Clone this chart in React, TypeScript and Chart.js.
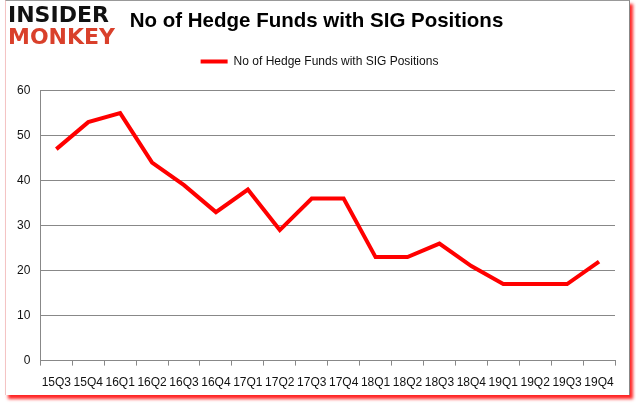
import React, { useEffect, useRef } from "react";
import { Chart, registerables } from "chart.js";

Chart.register(...registerables);

const categories = ["15Q3", "15Q4", "16Q1", "16Q2", "16Q3", "16Q4", "17Q1", "17Q2", "17Q3", "17Q4", "18Q1", "18Q2", "18Q3", "18Q4", "19Q1", "19Q2", "19Q3", "19Q4"];
const hedgeFunds = [47, 53, 55, 44, 39, 33, 38, 29, 36, 36, 23, 23, 26, 21, 17, 17, 17, 22];
const seriesLabel = "No of Hedge Funds with SIG Positions";
const chartTitle = "No of Hedge Funds with SIG Positions";
const yTicks = [0, 10, 20, 30, 40, 50, 60];

const legendSpacer = {
  id: "legendSpacer",
  beforeLayout(chart: any) {
    const legend = chart.legend;
    if (legend && !legend._spaced) {
      const fit = legend.fit;
      legend.fit = function () {
        fit.call(this);
        this.height += 13;
      };
      legend._spaced = true;
    }
  },
  afterLayout(chart: any) {
    if (chart.titleBlock) chart.titleBlock.left += 11;
    if (chart.legend) chart.legend.left += 17;
  },
};

export default function App() {
  const canvasRef = useRef<HTMLCanvasElement | null>(null);

  useEffect(() => {
    if (!canvasRef.current) return;
    const chart = new Chart(canvasRef.current, {
      type: "line",
      data: {
        labels: categories,
        datasets: [
          {
            label: seriesLabel,
            data: hedgeFunds,
            borderColor: "#ff0000",
            backgroundColor: "#ff0000",
            borderWidth: 4,
            pointRadius: 0,
            tension: 0,
            fill: false,
          },
        ],
      },
      plugins: [legendSpacer],
      options: {
        responsive: false,
        animation: false,
        layout: { padding: { left: 7, right: 21, top: 0, bottom: 5 } },
        plugins: {
          title: {
            display: true,
            text: chartTitle,
            color: "#000",
            font: { family: "Liberation Sans", size: 20.5, weight: "bold" },
            padding: { top: 9, bottom: 10 },
          },
          legend: {
            display: true,
            position: "top",
            labels: {
              color: "#111",
              font: { family: "Liberation Sans", size: 12 },
              boxWidth: 27,
              boxHeight: 4,
              padding: 12,
              generateLabels: (c: any) =>
                Chart.defaults.plugins.legend.labels.generateLabels(c).map((l: any) => ({ ...l, lineWidth: 0 })),
            },
          },
          tooltip: { enabled: false },
        },
        scales: {
          x: {
            offset: true,
            grid: {
              offset: true,
              drawOnChartArea: false,
              drawTicks: true,
              tickLength: 5,
              color: "#888",
            },
            border: { color: "#888" },
            ticks: {
              color: "#111",
              font: { family: "Liberation Sans", size: 12 },
              maxRotation: 0,
              autoSkip: false,
              padding: 10,
            },
          },
          y: {
            min: 0,
            max: 60,
            afterBuildTicks: (axis: any) => {
              axis.ticks = yTicks.map((v) => ({ value: v }));
            },
            grid: { color: "#888", drawTicks: false },
            border: { color: "#888" },
            ticks: {
              color: "#111",
              font: { family: "Liberation Sans", size: 12 },
              padding: 10,
            },
          },
        },
      },
    });
    return () => chart.destroy();
  }, []);

  return (
    <div style={{ position: "fixed", left: 0, top: 0, width: 636, height: 405, background: "#fff" }}>
      <div
        style={{
          position: "absolute",
          left: 5,
          top: 0,
          width: 623,
          height: 394,
          borderTop: "1px solid #999",
          borderRight: "1px solid #888",
          borderLeft: "1px solid #f4c4c4",
          boxShadow: "3px 4px 3px rgba(255,0,0,0.85)",
          background: "#fff",
        }}
      />
      <canvas ref={canvasRef} width={636} height={405} style={{ position: "absolute", left: 0, top: 0 }} />
      <div
        style={{
          position: "absolute",
          left: 8,
          top: 4,
          fontFamily: "DejaVu Sans",
          fontWeight: 900,
          lineHeight: "22px",
          letterSpacing: "0px",
        }}
      >
        <div style={{ color: "#111", fontSize: 22 }}>INSIDER</div>
        <div style={{ color: "#d9402b", fontSize: 22 }}>MONKEY</div>
      </div>
    </div>
  );
}
